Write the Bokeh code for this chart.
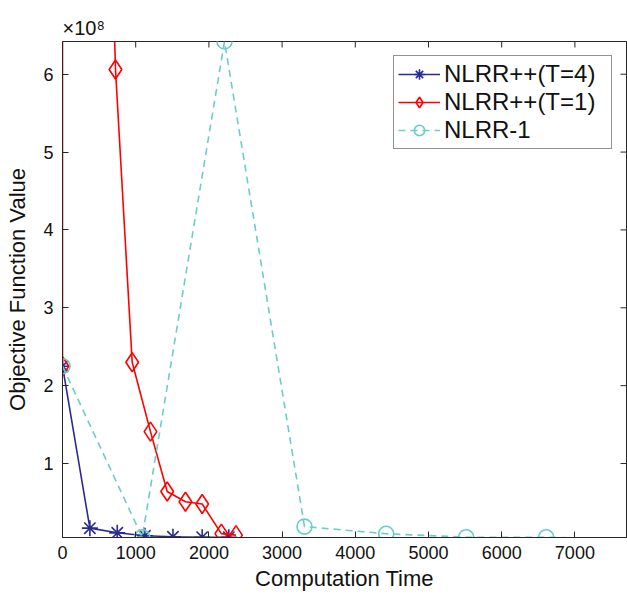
import math
from bokeh.plotting import figure
from bokeh.models import Range1d, FixedTicker, CustomJSTickFormatter
from bokeh.embed import file_html
from bokeh.resources import INLINE

# ---- data ----
x_ticks = [0, 1000, 2000, 3000, 4000, 5000, 6000, 7000]
y_ticks = [1e8, 2e8, 3e8, 4e8, 5e8, 6e8]
x_lim = [0, 7705]
y_lim = [0.05e8, 6.42e8]

t4_time = [0, 374, 748, 1126, 1509, 1908, 2272]
t4_obj = [2.25e8, 0.17e8, 0.11e8, 0.072e8, 0.059e8, 0.054e8, 0.054e8]

t1_time = [0, 0, 724, 952, 1202, 1430, 1680, 1908, 2170, 2370]
t1_obj = [2.25e8, 30e8, 6.06e8, 2.30e8, 1.41e8, 0.64e8, 0.51e8, 0.48e8, 0.10e8, 0.08e8]

n1_time = [0, 1089, 2213, 3306, 4422, 5515, 6608, 6990]
n1_obj = [2.25e8, 0.054e8, 6.42e8, 0.19e8, 0.098e8, 0.054e8, 0.054e8, 0.045e8]

labels = ["NLRR++(T=4)", "NLRR++(T=1)", "NLRR-1"]

BLUE = "#2A2A96"
RED = "#FF0000"
CYAN = "#6CCDC8"
AX = "#262626"
FONT = "Liberation Sans"

p = figure(width=627, height=595, output_backend="svg", toolbar_location=None,
           x_range=Range1d(*x_lim), y_range=Range1d(*y_lim),
           title="\u00d710\u2078",
           min_border_left=62, min_border_right=1, min_border_top=41, min_border_bottom=58)
p.background_fill_color = "white"
p.border_fill_color = "white"
p.outline_line_color = AX
p.xgrid.visible = False
p.ygrid.visible = False

p.title.align = "left"
p.title.text_font = FONT
p.title.text_font_size = "20px"
p.title.text_font_style = "normal"
p.title.text_color = "#111111"
p.title.standoff = 6
p.title.offset = 0

xax = p.xaxis[0]
yax = p.yaxis[0]
xax.ticker = FixedTicker(ticks=x_ticks)
xax.axis_label = "Computation Time"
yax.ticker = FixedTicker(ticks=y_ticks)
yax.formatter = CustomJSTickFormatter(code="return (tick/1e8).toFixed(0);")
yax.axis_label = "Objective Function Value"

for ax in [xax, yax]:
    ax.axis_line_color = AX
    ax.axis_line_width = 1
    ax.major_tick_line_color = AX
    ax.major_tick_in = 6
    ax.major_tick_out = 0
    ax.minor_tick_line_color = None
    ax.major_label_text_font = FONT
    ax.major_label_text_font_size = "18px"
    ax.major_label_text_color = "#111111"
    ax.axis_label_text_font = FONT
    ax.axis_label_text_font_size = "22px"
    ax.axis_label_text_font_style = "normal"
    ax.axis_label_text_color = "#111111"

xax.major_label_standoff = 8
xax.axis_label_standoff = 4
yax.major_label_standoff = 9
yax.axis_label_standoff = 10

# box ticks on top and right (half-clipped dash markers at the frame edge)
p.scatter(x_ticks[1:], [y_lim[1]] * (len(x_ticks) - 1), marker="dash", angle=math.pi / 2,
          size=12, line_color=AX, line_width=1)
p.scatter([x_lim[1]] * len(y_ticks), y_ticks, marker="dash", size=12, line_color=AX, line_width=1)

# ---- series ----
p.line(t4_time, t4_obj, line_color=BLUE, line_width=1.6, legend_label=labels[0])
p.scatter(t4_time, t4_obj, marker="asterisk", size=16, line_color=BLUE, line_width=1.6,
          legend_label=labels[0])

p.line(t1_time, t1_obj, line_color=RED, line_width=1.6, legend_label=labels[1])
p.scatter(t1_time, t1_obj, marker="diamond", size=19, line_color=RED, fill_color=None,
          line_width=1.6, legend_label=labels[1])

p.line(n1_time, n1_obj, line_color=CYAN, line_width=1.6, line_dash="7 5", legend_label=labels[2])
p.scatter(n1_time[:-1], n1_obj[:-1], marker="circle", size=15, line_color=CYAN, fill_color=None,
          line_width=1.6, legend_label=labels[2])

# ---- legend ----
lg = p.legend[0]
lg.location = "top_right"
lg.margin = 14
lg.padding = 4
lg.spacing = 0
lg.glyph_width = 42
lg.glyph_height = 26
lg.label_height = 26
lg.label_width = 163
lg.label_standoff = 4
lg.label_text_font = FONT
lg.label_text_font_size = "24px"
lg.label_text_color = "#111111"
lg.border_line_color = AX
lg.border_line_width = 1
lg.background_fill_color = "white"
lg.background_fill_alpha = 1.0

open("out.html", "w").write(file_html(p, INLINE))
